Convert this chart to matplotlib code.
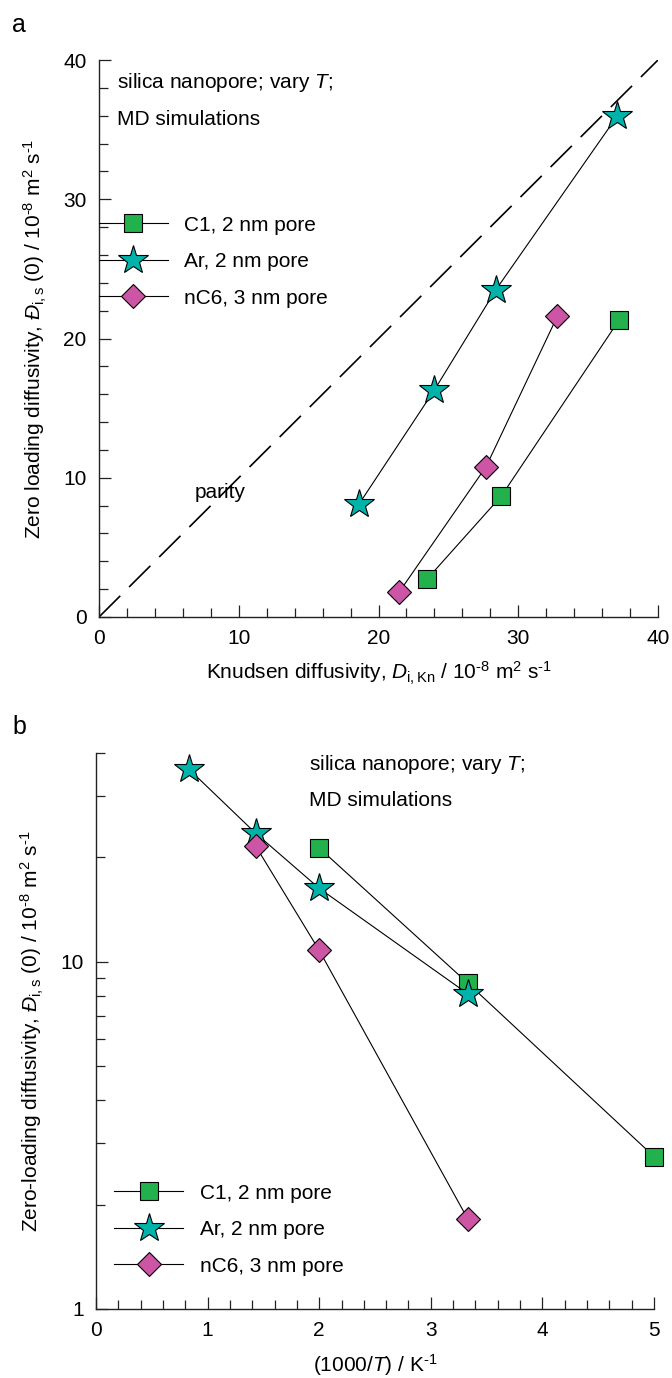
"""Zero-loading diffusivities in a silica nanopore: parity with Knudsen, and Arrhenius plot."""

import matplotlib

matplotlib.use("Agg")
import matplotlib.pyplot as plt
from matplotlib.ticker import FixedLocator, LogLocator, MultipleLocator, NullFormatter, FuncFormatter

# --------------------------------------------------------------------------- #
# Data (MD simulations, three guest/pore combinations)
# --------------------------------------------------------------------------- #
SERIES = ["C1, 2 nm pore", "Ar, 2 nm pore", "nC6, 3 nm pore"]

# Knudsen diffusivity, 10^-8 m2/s
KN_C1 = [37.2, 28.8, 23.5]
KN_AR = [37.1, 28.4, 24.0, 18.6]
KN_NC6 = [32.8, 27.7, 21.5]

# zero-loading self diffusivity, 10^-8 m2/s
D_C1 = [21.3, 8.7, 2.75]
D_AR = [36.0, 23.5, 16.3, 8.1]
D_NC6 = [21.6, 10.8, 1.82]

# 1000/T, 1/K
INV_T_C1 = [2.0, 3.33, 5.0]
INV_T_AR = [0.83, 1.43, 2.0, 3.33]
INV_T_NC6 = [1.43, 2.0, 3.33]

PARITY = [0, 40]

COLORS = ["#22b14c", "#00b3aa", "#cc55a5"]
MARKERS = ["s", "*", "D"]
MSIZES = [13, 22, 12.2]

FS = 15
plt.rcParams.update({
    "font.family": ["Liberation Sans", "DejaVu Sans"],
    "font.size": FS,
    "mathtext.fontset": "custom",
    "mathtext.rm": "Liberation Sans",
    "mathtext.it": "Liberation Sans:italic",
    "mathtext.bf": "Liberation Sans:bold",
})

W, H = 672, 1378
fig = plt.figure(figsize=(W / 100, H / 100), dpi=100)


def _axes(left, right, bottom, top):
    """Axes box given in pixels from the top-left corner."""
    return fig.add_axes([left / W, 1 - bottom / H, (right - left) / W, (bottom - top) / H])


def _style(ax):
    for side in ("top", "right"):
        ax.spines[side].set_visible(False)
    for side in ("left", "bottom"):
        ax.spines[side].set_linewidth(1.0)
        ax.spines[side].set_color("#222222")
    ax.tick_params(which="both", direction="in", color="#222222", width=0.9,
                   labelsize=FS, pad=9)
    ax.tick_params(which="major", length=8.6)
    ax.tick_params(which="minor", length=6.8)


def _series(ax, xs_list, ys_list):
    for xs, ys, name, c, m, ms in zip(xs_list, ys_list, SERIES, COLORS, MARKERS, MSIZES):
        ax.plot(xs, ys, color="black", lw=0.8, marker=m, ms=ms, mfc=c,
                mec="black", mew=0.8, label=name, clip_on=False)


def _legend(ax, x, y):
    ax.legend(loc="center left", bbox_to_anchor=(x, y), frameon=False,
              borderpad=0, borderaxespad=0, handlelength=3.3, handletextpad=0.8,
              labelspacing=0.84, fontsize=FS)


UNITS = r" / 10$^{\text{-8}}$ m$^{2}$ s$^{\text{-1}}$"
YLAB_TAIL = r" $\mathit{Đ}_{\mathrm{i,s}}$ (0)" + UNITS

# --------------------------------------------------------------------------- #
# (a) parity plot against Knudsen diffusivity
# --------------------------------------------------------------------------- #
ax = _axes(99, 658, 617, 60)
_style(ax)
ax.plot(PARITY, PARITY, color="black", lw=1.2, dashes=(18, 7.5))
_series(ax, [KN_C1, KN_AR, KN_NC6], [D_C1, D_AR, D_NC6])
ax.set_xlim(0, 40)
ax.set_ylim(0, 40)
ax.xaxis.set_major_locator(MultipleLocator(10))
ax.xaxis.set_minor_locator(MultipleLocator(2))
ax.yaxis.set_major_locator(MultipleLocator(10))
ax.yaxis.set_minor_locator(MultipleLocator(2))
ax.set_xlabel(r"Knudsen diffusivity, $\mathit{D}_{\mathrm{i,Kn}}$" + UNITS, labelpad=8)
ax.set_ylabel("Zero loading diffusivity," + YLAB_TAIL, labelpad=10)
ax.text(0.032, 0.959, r"silica nanopore; vary $T$;", transform=ax.transAxes, va="center")
ax.text(0.032, 0.894, "MD simulations", transform=ax.transAxes, va="center")
ax.text(0.172, 0.223, "parity", transform=ax.transAxes, va="center")
_legend(ax, 0.0, 0.638)
fig.text(12 / W, 1 - 25 / H, "a", fontsize=18, va="center")

# --------------------------------------------------------------------------- #
# (b) Arrhenius plot
# --------------------------------------------------------------------------- #
ax = _axes(96, 654, 1309, 753)
_style(ax)
_series(ax, [INV_T_C1, INV_T_AR, INV_T_NC6], [D_C1, D_AR, D_NC6])
ax.set_yscale("log")
ax.set_xlim(0, 5)
ax.set_ylim(1, 40)
ax.xaxis.set_major_locator(MultipleLocator(1))
ax.xaxis.set_minor_locator(MultipleLocator(0.2))
ax.yaxis.set_major_locator(FixedLocator([1, 10]))
ax.yaxis.set_major_formatter(FuncFormatter(lambda v, _: f"{v:g}"))
ax.yaxis.set_minor_locator(LogLocator(base=10, subs=range(2, 10)))
ax.yaxis.set_minor_formatter(NullFormatter())
ax.set_xlabel(r"(1000/$T$) / K$^{\text{-1}}$", labelpad=8)
ax.set_ylabel("Zero-loading diffusivity," + YLAB_TAIL, labelpad=10)
ax.text(0.382, 0.980, r"silica nanopore; vary $T$;", transform=ax.transAxes, va="center")
ax.text(0.382, 0.915, "MD simulations", transform=ax.transAxes, va="center")
_legend(ax, 0.033, 0.1425)
fig.text(12 / W, 1 - 727 / H, "b", fontsize=18, va="center")

fig.savefig("out.png", dpi=100)
